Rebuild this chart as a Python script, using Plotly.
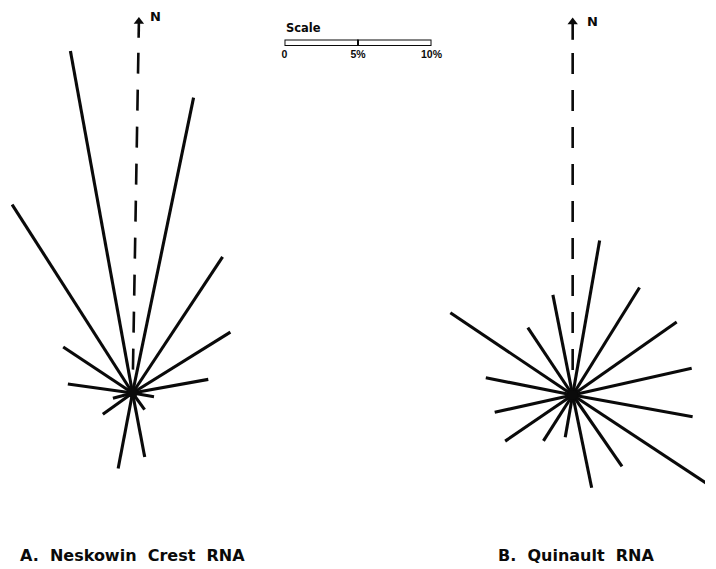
import numpy as np
import plotly.graph_objects as go

# ---------------- data ----------------
# A. Neskowin Crest RNA : ray azimuth (deg from N, clockwise) and length (%)
thetaA = [11.9, 34.0, 58.6, 80.0, 99.5, 143.6, 169.0, 191.0, 235.0, 255.0, 277.7, 303.0, 326.9, 349.5]
rA     = [20.4, 11.1,  7.9,  5.3,  1.5,   1.4,   4.4,   5.2,   2.5,   1.4,   4.5,   5.7,  15.2,  23.5]

# B. Quinault RNA
thetaB = [10.1, 32.4, 55.5, 77.6, 100.1, 122.9, 144.8, 168.2, 190.2, 213.0, 236.2, 257.7, 281.0, 303.4, 325.8, 348.6]
rB     = [10.6,  8.6,  8.7,  8.4,   8.4,  11.5,   5.9,   6.4,   2.9,   3.7,   5.6,   5.5,   6.1,  10.1,   5.5,   6.9]

titles = ["A.  Neskowin  Crest  RNA", "B.  Quinault  RNA"]

# scale bar
scale_ticks = [0, 5, 10]
scale_labels = ["0", "5%", "10%"]

# north reference lines (azimuth, dashed extent in %, arrow shaft extent in %)
north_theta = [1.0, 0.0]
north_dash = [(23.0, 1.55), (23.1, 1.55)]
north_arrow = [(24.0, 25.1), (24.0, 25.2)]

# ---------------- layout constants ----------------
OFF = 8                      # default page body margin (top / left)
W, H = 716 - OFF, 569 - OFF
PX_PER_PCT = 14.8
centers = [(132 - OFF, 393 - OFF), (581 - OFF, 395 - OFF)]
panel_x = [(0, 350), (350, W)]
INK = "#0a0a0a"
FONT_T = "DejaVu Sans"
FONT_S = "Liberation Sans"


def px(x, y):
    """reference-picture pixel -> paper coords"""
    return (x - OFF) / W, 1 - (y - OFF) / H


def to_xy(theta, r):
    t = np.radians(np.asarray(theta, dtype=float))
    r = np.asarray(r, dtype=float)
    return r * np.sin(t), r * np.cos(t)


def rays(thetas, rs):
    xs, ys = [], []
    ex, ey = to_xy(thetas, rs)
    for a, b in zip(ex, ey):
        xs += [0, a, None]
        ys += [0, b, None]
    return xs, ys


fig = go.Figure()

datasets = [(thetaA, rA), (thetaB, rB)]
axis_layout = {}
for i, (th, rv) in enumerate(datasets):
    xa, ya = f"x{i + 2}", f"y{i + 2}"
    xs, ys = rays(th, rv)
    fig.add_trace(go.Scatter(x=xs, y=ys, mode="lines", xaxis=xa, yaxis=ya,
                             line=dict(color=INK, width=3.1), connectgaps=False,
                             hoverinfo="skip"))
    # north dashed line
    dx, dy = to_xy([north_theta[i]] * 2, north_dash[i])
    fig.add_trace(go.Scatter(x=dx, y=dy, mode="lines", xaxis=xa, yaxis=ya, hoverinfo="skip",
                             line=dict(color=INK, width=2.6, dash="21px,16px")))
    # north arrow shaft + head
    ax_, ay_ = to_xy([north_theta[i]] * 2, north_arrow[i])
    fig.add_trace(go.Scatter(x=ax_, y=ay_, mode="lines", xaxis=xa, yaxis=ya, hoverinfo="skip",
                             line=dict(color=INK, width=2.6)))
    fig.add_trace(go.Scatter(x=[ax_[1]], y=[ay_[1]], mode="markers", xaxis=xa, yaxis=ya,
                             hoverinfo="skip", cliponaxis=False,
                             marker=dict(symbol="triangle-up", size=9, color=INK)))
    # centre blob
    fig.add_trace(go.Scatter(x=[0], y=[0], mode="markers", xaxis=xa, yaxis=ya,
                             hoverinfo="skip", marker=dict(size=10, color=INK)))

    cx, cy = centers[i]
    x0, x1 = panel_x[i]
    axis_layout[f"xaxis{i + 2}"] = dict(domain=[x0 / W, x1 / W], anchor=ya,
                                        range=[(x0 - cx) / PX_PER_PCT, (x1 - cx) / PX_PER_PCT],
                                        visible=False, fixedrange=True)
    axis_layout[f"yaxis{i + 2}"] = dict(domain=[0, 1], anchor=xa,
                                        range=[(cy - H) / PX_PER_PCT, cy / PX_PER_PCT],
                                        visible=False, fixedrange=True)

# invisible anchor trace for the scale-bar axes
fig.add_trace(go.Scatter(x=scale_ticks, y=[0.5] * len(scale_ticks), mode="markers",
                         marker=dict(opacity=0), hoverinfo="skip", xaxis="x", yaxis="y"))

bar_x0, bar_x1 = px(287, 0)[0], px(437, 0)[0]
bar_yb, bar_yt = px(0, 46)[1], px(0, 39.5)[1]

fig.update_layout(
    width=W, height=H,
    margin=dict(l=0, r=0, t=0, b=0),
    paper_bgcolor="white", plot_bgcolor="rgba(0,0,0,0)",
    showlegend=False,
    xaxis=dict(domain=[bar_x0, bar_x1], range=[scale_ticks[0], scale_ticks[-1]],
               tickvals=scale_ticks, ticktext=scale_labels, ticks="", showgrid=False,
               zeroline=False, showline=False, fixedrange=True,
               tickfont=dict(family=FONT_S, size=10.5, color=INK, weight="bold")),
    yaxis=dict(domain=[bar_yb, bar_yt], range=[0, 1], visible=False, fixedrange=True),
    **axis_layout,
)

# scale bar rectangle (two halves)
for a, b in [(scale_ticks[0], scale_ticks[1]), (scale_ticks[1], scale_ticks[2])]:
    fig.add_shape(type="rect", xref="x", yref="y", x0=a, x1=b, y0=0, y1=1,
                  line=dict(color=INK, width=2), fillcolor="white")

annotations = [
    dict(text="Scale", pos=(287, 28), xanchor="left",
         font=dict(family=FONT_T, size=11.5, color=INK, weight="bold")),
    dict(text="N", pos=(155, 17), xanchor="center",
         font=dict(family=FONT_T, size=13, color=INK, weight="bold")),
    dict(text="N", pos=(601, 22), xanchor="center",
         font=dict(family=FONT_T, size=13, color=INK, weight="bold")),
    dict(text=titles[0], pos=(15, 555), xanchor="left",
         font=dict(family=FONT_T, size=16, color=INK, weight="bold")),
    dict(text=titles[1], pos=(503, 555), xanchor="left",
         font=dict(family=FONT_T, size=16, color=INK, weight="bold")),
]
for a in annotations:
    x, y = px(*a.pop("pos"))
    fig.add_annotation(xref="paper", yref="paper", x=x, y=y, yanchor="middle",
                       showarrow=False, **a)

fig.write_html("out.html")
